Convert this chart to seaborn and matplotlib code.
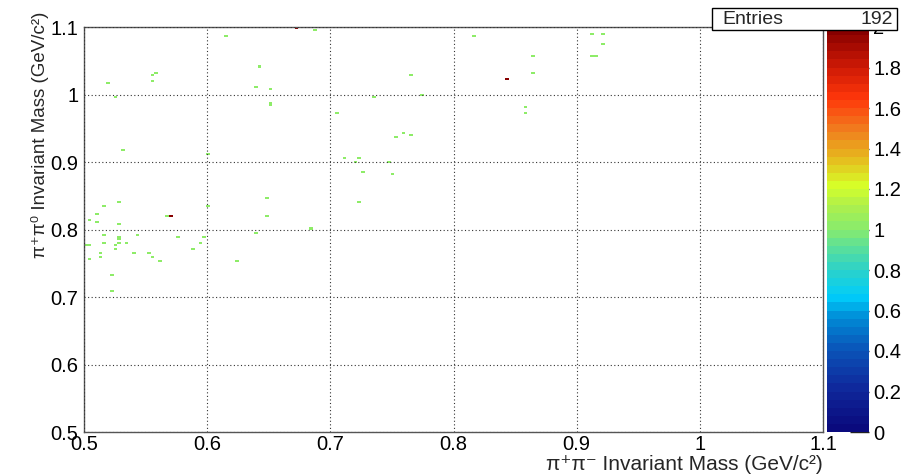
import numpy as np
import pandas as pd
import matplotlib
matplotlib.use("Agg")
import matplotlib.pyplot as plt
import seaborn as sns
from matplotlib.colors import LinearSegmentedColormap
from matplotlib.patches import Rectangle
from matplotlib.ticker import MultipleLocator, FuncFormatter

# ---- data ----
mass_pipi = [0.614, 0.642, 0.558, 0.555, 0.519, 0.555, 0.638, 0.650, 0.525, 0.650, 0.650,
             0.532, 0.601, 0.649, 0.527, 0.516, 0.601, 0.511, 0.567, 0.570, 0.649, 0.504,
             0.510, 0.527, 0.638, 0.516, 0.528, 0.527, 0.543, 0.576, 0.597, 0.516, 0.535,
             0.527, 0.525, 0.501, 0.505, 0.593, 0.587, 0.525, 0.541, 0.512, 0.553, 0.512,
             0.556, 0.503, 0.561, 0.624, 0.523, 0.523,
             0.672, 0.687, 0.817, 0.765, 0.735, 0.774, 0.705, 0.760, 0.765, 0.754, 0.713,
             0.722, 0.721, 0.747, 0.726, 0.750, 0.722, 0.683,
             0.912, 0.922, 0.922, 0.866, 0.912, 0.915, 0.863, 0.843, 0.860, 0.860]
mass_3pi = [1.087, 1.041, 1.033, 1.029, 1.017, 1.020, 1.011, 1.008, 0.998, 0.988, 0.985,
            0.918, 0.913, 0.847, 0.841, 0.836, 0.836, 0.823, 0.821, 0.820, 0.821, 0.813,
            0.810, 0.807, 0.795, 0.793, 0.790, 0.787, 0.793, 0.789, 0.789, 0.781, 0.781,
            0.779, 0.776, 0.776, 0.777, 0.779, 0.771, 0.770, 0.767, 0.765, 0.764, 0.759,
            0.759, 0.756, 0.755, 0.755, 0.733, 0.709,
            1.099, 1.096, 1.087, 1.029, 0.998, 0.999, 0.974, 0.943, 0.940, 0.936, 0.907,
            0.906, 0.899, 0.901, 0.885, 0.881, 0.841, 0.801,
            1.091, 1.091, 1.075, 1.056, 1.057, 1.056, 1.032, 1.024, 0.981, 0.974]
counts = [1, 1, 1, 1, 1, 1, 1, 1, 1, 1, 1,
          1, 1, 1, 1, 1, 1, 1, 1, 2, 1, 1,
          1, 1, 1, 1, 1, 1, 1, 1, 1, 1, 1,
          1, 1, 1, 1, 1, 1, 1, 1, 1, 1, 1,
          1, 1, 1, 1, 1, 1,
          2, 1, 1, 1, 1, 1, 1, 1, 1, 1, 1,
          1, 1, 1, 1, 1, 1, 1,
          1, 1, 1, 1, 1, 1, 1, 2, 1, 1]
entries = 192
x_ticks = [0.5, 0.6, 0.7, 0.8, 0.9, 1.0, 1.1]
y_ticks = [0.5, 0.6, 0.7, 0.8, 0.9, 1.0, 1.1]
z_ticks = [0, 0.2, 0.4, 0.6, 0.8, 1.0, 1.2, 1.4, 1.6, 1.8, 2.0]
x_title = "π⁺π⁻ Invariant Mass (GeV/c²)"
y_title = "π⁺π⁰ Invariant Mass (GeV/c²)"

df = pd.DataFrame({"mpipi": mass_pipi, "m3pi": mass_3pi, "w": counts})

sns.set_theme(style="white")
plt.rcParams["font.family"] = ["Liberation Sans", "DejaVu Sans"]

# ROOT-like rainbow palette with 50 colour levels
anchors = [
    (0.00, (10, 10, 125)), (0.10, (15, 40, 155)), (0.20, (10, 85, 185)),
    (0.28, (0, 140, 215)), (0.33, (0, 205, 250)), (0.40, (45, 210, 200)),
    (0.46, (95, 225, 150)), (0.50, (135, 235, 110)), (0.56, (175, 240, 75)),
    (0.61, (215, 255, 40)), (0.68, (230, 185, 30)), (0.75, (240, 125, 30)),
    (0.83, (255, 55, 10)), (0.91, (205, 25, 5)), (1.00, (135, 0, 0))]
cmap = LinearSegmentedColormap.from_list(
    "rootpal", [(p, tuple(c / 255 for c in rgb)) for p, rgb in anchors], N=50)

fig = plt.figure(figsize=(9.23, 4.74), dpi=100)
W, H = 923, 474
ax = fig.add_axes([84 / W, 1 - 432 / H, (823 - 84) / W, (432 - 27) / H])
cax = fig.add_axes([827 / W, 1 - 432 / H, (869 - 827) / W, (432 - 27) / H])

sns.histplot(data=df, x="mpipi", y="m3pi", weights="w", bins=200,
             binrange=((0.5, 1.1), (0.5, 1.1)), cmap=cmap, vmin=0, vmax=2,
             cbar=False, ax=ax)
mesh = ax.collections[0]
mesh.set_clim(0, 2)

ax.set_xlim(0.5, 1.1)
ax.set_ylim(0.5, 1.1)
ax.set_xticks(x_ticks)
ax.set_yticks(y_ticks)
fmt = FuncFormatter(lambda v, p: f"{v:g}")
ax.xaxis.set_major_formatter(fmt)
ax.yaxis.set_major_formatter(fmt)
ax.xaxis.set_minor_locator(MultipleLocator(0.02))
ax.yaxis.set_minor_locator(MultipleLocator(0.02))
ax.tick_params(axis="both", which="both", direction="in", colors="#222222",
               labelcolor="black", labelsize=14.5, width=1)
ax.tick_params(axis="x", which="major", length=8.5, pad=2)
ax.tick_params(axis="x", which="minor", length=4.3)
ax.tick_params(axis="y", which="major", length=15.5, pad=4)
ax.tick_params(axis="y", which="minor", length=8)
ax.grid(True, which="major", color="#333333", linestyle=(0, (1, 2.2)), linewidth=0.8)
ax.set_axisbelow(False)
for s in ax.spines.values():
    s.set_color("#555555")
    s.set_linewidth(1.0)

ax.set_xlabel(x_title, fontsize=15, loc="right")
ax.xaxis.label.set_va("center")
ax.xaxis.set_label_coords(1.0, (432 - 465) / 405)
ax.set_ylabel(y_title, fontsize=13.5)
yl = ax.yaxis.label
yl.set_rotation_mode("default")
yl.set_ha("center")
yl.set_va("top")
ax.yaxis.set_label_coords((40 - 84) / 739, (432 - 12) / 405)

cb = fig.colorbar(mesh, cax=cax)
cb.outline.set_visible(False)
cb.set_ticks(z_ticks)
cb.ax.yaxis.set_major_formatter(fmt)
cb.ax.tick_params(direction="in", length=14, width=1, colors="#222222",
                  labelcolor="black", labelsize=14.5, pad=3)

# statistics box
fig.add_artist(Rectangle((712 / W, 1 - 30 / H), 185 / W, 22 / H, transform=fig.transFigure,
                         facecolor="white", edgecolor="black", linewidth=1, zorder=10))
fig.text(722 / W, 1 - 19 / H, "Entries", fontsize=14, ha="left", va="center", zorder=11)
fig.text(893 / W, 1 - 19 / H, f"{entries}", fontsize=14, ha="right", va="center", zorder=11)

fig.savefig("out.png", dpi=100)
